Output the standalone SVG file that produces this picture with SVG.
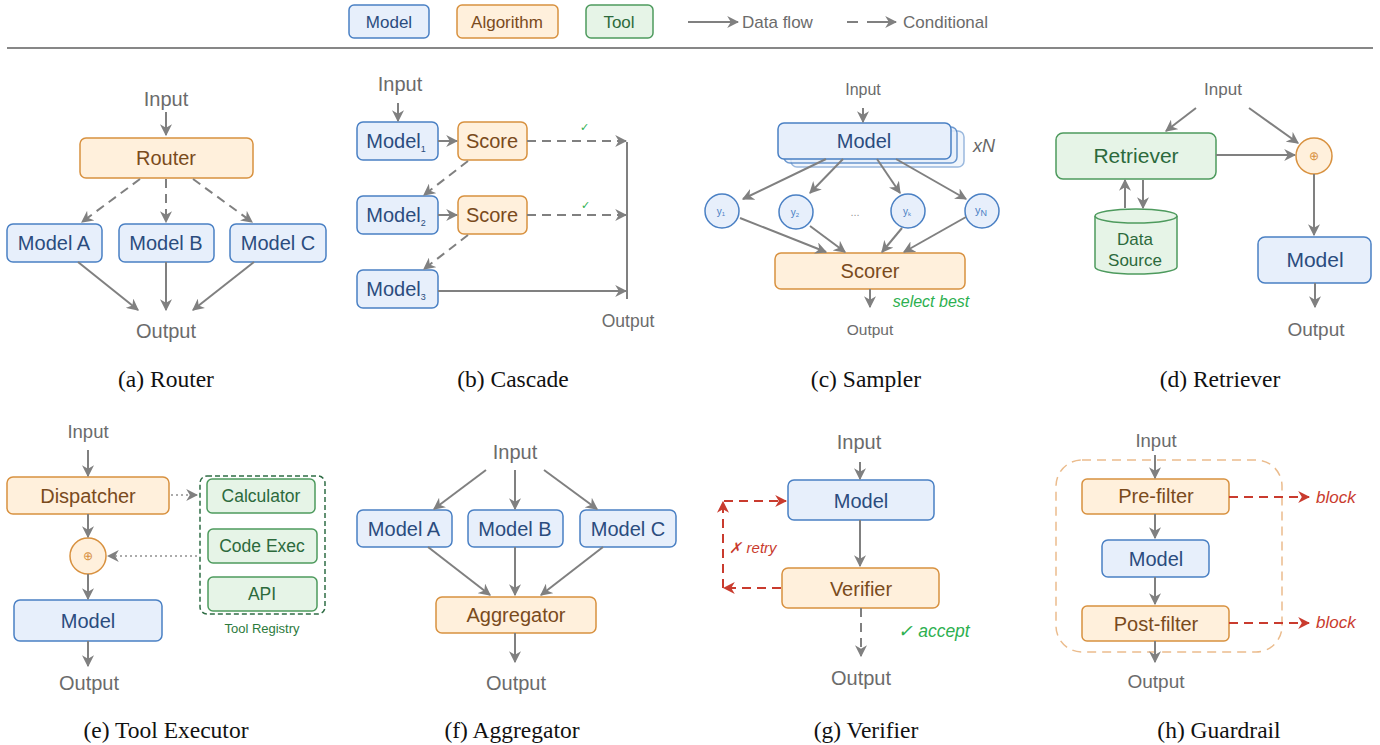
<svg xmlns="http://www.w3.org/2000/svg" width="1380" height="745" viewBox="0 0 1380 745">
<style>
text{font-family:"Liberation Sans",Arial,sans-serif;dominant-baseline:central;text-anchor:middle}
.m{fill:#e7effb;stroke:#4a80c4;stroke-width:1.5}
.a{fill:#fff0dc;stroke:#d8913f;stroke-width:1.5}
.t{fill:#e6f4e7;stroke:#4d9a5d;stroke-width:1.5}
.mt{fill:#2b4c7e;font-size:20px}
.at{fill:#7a4b1c;font-size:20px}
.tt{fill:#2c6a3c;font-size:20px}
.g{fill:#6b6b6b;font-size:20px}
.cap{font-family:"Liberation Serif","Times New Roman",serif;font-size:23.5px;fill:#111}
.s{stroke:#808080;stroke-width:2;fill:none;marker-end:url(#ah)}
.d{stroke:#808080;stroke-width:2;fill:none;stroke-dasharray:9 6;marker-end:url(#ah)}
.r{stroke:#c93b2e;stroke-width:2;fill:none;stroke-dasharray:9 6;marker-end:url(#rh)}
.dot{stroke:#909090;stroke-width:1.5;fill:none;stroke-dasharray:2 3;marker-end:url(#ah)}
.plain{stroke:#808080;stroke-width:2;fill:none}
</style>
<defs>
<marker id="ah" viewBox="0 0 10 10" refX="9" refY="5" markerWidth="12" markerHeight="12" markerUnits="userSpaceOnUse" orient="auto"><path d="M0,0 L10,5 L0,10 L3,5 z" fill="#808080"/></marker>
<marker id="rh" viewBox="0 0 10 10" refX="9" refY="5" markerWidth="12" markerHeight="12" markerUnits="userSpaceOnUse" orient="auto"><path d="M0,0 L10,5 L0,10 L3,5 z" fill="#c93b2e"/></marker>
</defs>

<!-- Legend -->
<g id="legend">
<rect class="m" x="349" y="5" width="80" height="33" rx="5"/><text class="mt" x="389" y="22" style="font-size:17px">Model</text>
<rect class="a" x="457" y="5" width="101" height="33" rx="5"/><text class="at" x="507" y="22" style="font-size:17px">Algorithm</text>
<rect class="t" x="586" y="5" width="67" height="33" rx="5"/><text class="tt" x="619" y="22" style="font-size:17px">Tool</text>
<line class="s" x1="688" y1="22" x2="738" y2="22"/>
<text class="g" x="742" y="22" style="text-anchor:start;font-size:17px">Data flow</text>
<line class="plain" x1="847" y1="22" x2="858" y2="22"/>
<line class="s" x1="867" y1="22" x2="896" y2="22"/>
<text class="g" x="903" y="22" style="text-anchor:start;font-size:17px">Conditional</text>
<line x1="7" y1="48" x2="1373" y2="48" stroke="#111" stroke-width="1.2"/>
</g>

<!-- (a) Router -->
<g id="router">
<text class="g" x="166" y="99">Input</text>
<rect class="a" x="80" y="138" width="173" height="40" rx="6"/><text class="at" x="166" y="158">Router</text>
<rect class="m" x="7" y="224" width="95" height="38" rx="6"/><text class="mt" x="54" y="243">Model A</text>
<rect class="m" x="119" y="224" width="95" height="38" rx="6"/><text class="mt" x="166" y="243">Model B</text>
<rect class="m" x="230" y="224" width="96" height="38" rx="6"/><text class="mt" x="278" y="243">Model C</text>
<text class="g" x="166" y="331">Output</text>
<text class="cap" x="166" y="379">(a) Router</text>
</g>

<!-- (b) Cascade -->
<g id="cascade">
<text class="g" x="400" y="84">Input</text>
<rect class="m" x="357" y="122" width="81" height="38" rx="6"/><text class="mt" x="396" y="141">Model<tspan style="font-size:9px" dy="8">1</tspan></text>
<rect class="a" x="458" y="122" width="69" height="38" rx="6"/><text class="at" x="492" y="141">Score</text>
<rect class="m" x="357" y="196" width="81" height="38" rx="6"/><text class="mt" x="396" y="215">Model<tspan style="font-size:9px" dy="8">2</tspan></text>
<rect class="a" x="458" y="196" width="69" height="38" rx="6"/><text class="at" x="492" y="215">Score</text>
<rect class="m" x="357" y="270" width="81" height="38" rx="6"/><text class="mt" x="396" y="289">Model<tspan style="font-size:9px" dy="8">3</tspan></text>
<text x="584" y="127" style="font-size:11px;fill:#2db050">✓</text>
<text x="585" y="205" style="font-size:11px;fill:#2db050">✓</text>
<text class="g" x="628" y="321" style="font-size:17.5px">Output</text>
<text class="cap" x="513" y="379">(b) Cascade</text>
</g>

<!-- (c) Sampler -->
<g id="sampler">
<text class="g" x="863" y="89" style="font-size:16px">Input</text>
<rect class="m" x="791" y="131" width="173" height="36" rx="6" style="opacity:0.55"/>
<rect class="m" x="784" y="127" width="173" height="36" rx="6" style="opacity:0.8"/>
<rect class="m" x="778" y="123" width="173" height="36" rx="6"/><text class="mt" x="864" y="141">Model</text>
<text x="973" y="146" style="text-anchor:start;font-size:18px;font-style:italic;fill:#666">xN</text>
<circle class="m" cx="722" cy="211" r="17"/><text x="721" y="211" style="font-size:10px;fill:#4a80c4">y<tspan style="font-size:6px" dy="3">1</tspan></text>
<circle class="m" cx="796" cy="212" r="17"/><text x="795" y="212" style="font-size:10px;fill:#4a80c4">y<tspan style="font-size:6px" dy="3">2</tspan></text>
<text x="855" y="212" style="font-size:11px;fill:#999">...</text>
<circle class="m" cx="908" cy="211" r="17"/><text x="907" y="211" style="font-size:10px;fill:#4a80c4">y<tspan style="font-size:6px" dy="3">k</tspan></text>
<circle class="m" cx="982" cy="211" r="17"/><text x="981" y="210" style="font-size:11px;fill:#4a80c4">y<tspan style="font-size:9px" dy="3">N</tspan></text>
<rect class="a" x="775" y="253" width="190" height="36" rx="6"/><text class="at" x="870" y="271">Scorer</text>
<text x="931" y="301" style="font-size:16px;font-style:italic;fill:#2db050">select best</text>
<text class="g" x="870" y="329" style="font-size:15.5px">Output</text>
<text class="cap" x="866" y="379">(c) Sampler</text>
</g>

<!-- (d) Retriever -->
<g id="retriever">
<text class="g" x="1223" y="89" style="font-size:17px">Input</text>
<rect class="t" x="1056" y="133" width="160" height="46" rx="7"/><text class="tt" x="1136" y="155" style="font-size:21px">Retriever</text>
<circle class="a" cx="1314" cy="156" r="18"/><text x="1314" y="156" style="font-size:12px;fill:#d8913f">⊕</text>
<path class="t" d="M1095,216 L1095,267 A41,7 0 0 0 1177,267 L1177,216"/>
<ellipse class="t" cx="1136" cy="216" rx="41" ry="7"/>
<text class="tt" x="1135" y="239" style="font-size:17px">Data</text>
<text class="tt" x="1135" y="260" style="font-size:17px">Source</text>
<rect class="m" x="1258" y="237" width="113" height="46" rx="7"/><text class="mt" x="1315" y="259" style="font-size:21px">Model</text>
<text class="g" x="1316" y="329" style="font-size:19px">Output</text>
<text class="cap" x="1220" y="379">(d) Retriever</text>
</g>

<!-- (e) Tool Executor -->
<g id="toolexec">
<text class="g" x="88" y="431" style="font-size:18.5px">Input</text>
<rect class="a" x="7" y="477" width="162" height="37" rx="6"/><text class="at" x="88" y="496">Dispatcher</text>
<circle class="a" cx="88" cy="556" r="18"/><text x="88" y="556" style="font-size:12px;fill:#d8913f">⊕</text>
<rect class="m" x="14" y="600" width="148" height="41" rx="6"/><text class="mt" x="88" y="621">Model</text>
<text class="g" x="89" y="683">Output</text>
<rect x="200" y="476" width="125" height="138" rx="7" fill="none" stroke="#2f6d45" stroke-width="1.5" stroke-dasharray="5 3"/>
<rect class="t" x="207" y="479" width="108" height="34" rx="5"/><text class="tt" x="261" y="496" style="font-size:17.5px">Calculator</text>
<rect class="t" x="208" y="529" width="109" height="34" rx="5"/><text class="tt" x="262" y="546" style="font-size:17.5px">Code Exec</text>
<rect class="t" x="208" y="577" width="109" height="34" rx="5"/><text class="tt" x="262" y="594" style="font-size:17.5px">API</text>
<text x="262" y="628" style="font-size:13px;fill:#2c7a3c">Tool Registry</text>
<text class="cap" x="166" y="730">(e) Tool Executor</text>
</g>

<!-- (f) Aggregator -->
<g id="aggregator">
<text class="g" x="515" y="452">Input</text>
<rect class="m" x="357" y="510" width="95" height="37" rx="6"/><text class="mt" x="404" y="529">Model A</text>
<rect class="m" x="468" y="510" width="95" height="37" rx="6"/><text class="mt" x="515" y="529">Model B</text>
<rect class="m" x="580" y="510" width="96" height="37" rx="6"/><text class="mt" x="628" y="529">Model C</text>
<rect class="a" x="436" y="597" width="160" height="36" rx="6"/><text class="at" x="516" y="615">Aggregator</text>
<text class="g" x="516" y="683">Output</text>
<text class="cap" x="512" y="730">(f) Aggregator</text>
</g>

<!-- (g) Verifier -->
<g id="verifier">
<text class="g" x="859" y="442">Input</text>
<rect class="m" x="788" y="480" width="146" height="40" rx="6"/><text class="mt" x="861" y="501">Model</text>
<rect class="a" x="782" y="568" width="157" height="40" rx="6"/><text class="at" x="861" y="589">Verifier</text>
<text x="934" y="631" style="font-size:17.5px;font-style:italic;fill:#2db050">✓ accept</text>
<text x="753" y="547" style="font-size:15px;font-style:italic;fill:#c93b2e">✗ retry</text>
<text class="g" x="861" y="678">Output</text>
<text class="cap" x="866" y="730">(g) Verifier</text>
</g>

<!-- (h) Guardrail -->
<g id="guardrail">
<text class="g" x="1156" y="440" style="font-size:18.5px">Input</text>
<rect x="1056" y="460" width="226" height="192" rx="26" fill="none" stroke="#ebbc8d" stroke-width="1.5" stroke-dasharray="9 6"/>
<rect class="a" x="1082" y="479" width="147" height="35" rx="5"/><text class="at" x="1156" y="496">Pre-filter</text>
<rect class="m" x="1102" y="540" width="107" height="37" rx="6"/><text class="mt" x="1156" y="559">Model</text>
<rect class="a" x="1082" y="606" width="147" height="35" rx="5"/><text class="at" x="1156" y="624">Post-filter</text>
<text x="1316" y="497" style="text-anchor:start;font-size:17px;font-style:italic;fill:#c93b2e">block</text>
<text x="1316" y="622" style="text-anchor:start;font-size:17px;font-style:italic;fill:#c93b2e">block</text>
<text class="g" x="1156" y="681" style="font-size:19px">Output</text>
<text class="cap" x="1219" y="730">(h) Guardrail</text>
</g>

<!-- Connectors -->
<g id="connectors">
<!-- a -->
<line class="s" x1="166" y1="112" x2="166" y2="135"/>
<line class="d" x1="140" y1="179" x2="82" y2="222"/>
<line class="d" x1="166" y1="179" x2="166" y2="222"/>
<line class="d" x1="193" y1="179" x2="252" y2="222"/>
<line class="s" x1="78" y1="262" x2="138" y2="310"/>
<line class="s" x1="166" y1="262" x2="166" y2="310"/>
<line class="s" x1="254" y1="262" x2="193" y2="310"/>
<!-- b -->
<line class="s" x1="398" y1="103" x2="398" y2="121"/>
<line class="s" x1="438" y1="141" x2="457" y2="141"/>
<line class="s" x1="438" y1="215" x2="457" y2="215"/>
<line class="d" x1="527" y1="141" x2="626" y2="141"/>
<line class="d" x1="527" y1="215" x2="626" y2="215"/>
<line class="d" x1="468" y1="161" x2="424" y2="195"/>
<line class="d" x1="468" y1="235" x2="424" y2="269"/>
<line class="s" x1="438" y1="291" x2="626" y2="291"/>
<line class="plain" x1="627" y1="142" x2="627" y2="299" stroke-width="1.5"/>
<!-- c -->
<line class="s" x1="863" y1="108" x2="863" y2="122"/>
<line class="s" x1="826" y1="159" x2="743" y2="199"/>
<line class="s" x1="843" y1="159" x2="810" y2="193"/>
<line class="s" x1="877" y1="159" x2="900" y2="193"/>
<line class="s" x1="896" y1="159" x2="966" y2="199"/>
<line class="s" x1="740" y1="218" x2="826" y2="252"/>
<line class="s" x1="810" y1="226" x2="845" y2="252"/>
<line class="s" x1="902" y1="228" x2="882" y2="252"/>
<line class="s" x1="966" y1="217" x2="904" y2="252"/>
<line class="s" x1="870" y1="289" x2="870" y2="307"/>
<!-- d -->
<line class="s" x1="1196" y1="108" x2="1166" y2="131"/>
<line class="s" x1="1249" y1="108" x2="1298" y2="143"/>
<line class="s" x1="1216" y1="155" x2="1295" y2="155"/>
<line class="s" x1="1314" y1="174" x2="1314" y2="235"/>
<line class="s" x1="1315" y1="283" x2="1315" y2="307"/>
<line class="s" x1="1125" y1="208" x2="1125" y2="180"/>
<line class="s" x1="1143" y1="180" x2="1143" y2="208"/>
<!-- e -->
<line class="s" x1="88" y1="450" x2="88" y2="476"/>
<line class="s" x1="88" y1="514" x2="88" y2="537"/>
<line class="s" x1="88" y1="574" x2="88" y2="599"/>
<line class="s" x1="88" y1="641" x2="88" y2="666"/>
<line class="dot" x1="171" y1="495" x2="197" y2="495"/>
<line class="dot" x1="197" y1="556" x2="108" y2="556"/>
<!-- f -->
<line class="s" x1="486" y1="470" x2="434" y2="509"/>
<line class="s" x1="515" y1="470" x2="515" y2="509"/>
<line class="s" x1="544" y1="470" x2="597" y2="509"/>
<line class="s" x1="428" y1="547" x2="490" y2="595"/>
<line class="s" x1="515" y1="547" x2="515" y2="595"/>
<line class="s" x1="603" y1="547" x2="541" y2="595"/>
<line class="s" x1="515" y1="633" x2="515" y2="662"/>
<!-- g -->
<line class="s" x1="860" y1="462" x2="860" y2="479"/>
<line class="s" x1="860" y1="520" x2="860" y2="566"/>
<line class="d" x1="861" y1="608" x2="861" y2="656"/>
<line class="r" x1="781" y1="588" x2="724" y2="588"/>
<line class="r" x1="723" y1="588" x2="723" y2="502"/>
<line class="r" x1="724" y1="501" x2="786" y2="501"/>
<!-- h -->
<line class="s" x1="1155" y1="455" x2="1155" y2="478"/>
<line class="s" x1="1155" y1="514" x2="1155" y2="538"/>
<line class="s" x1="1155" y1="577" x2="1155" y2="604"/>
<line class="s" x1="1155" y1="641" x2="1155" y2="662"/>
<line class="r" x1="1229" y1="497" x2="1309" y2="497"/>
<line class="r" x1="1229" y1="623" x2="1309" y2="623"/>
</g>
</svg>
